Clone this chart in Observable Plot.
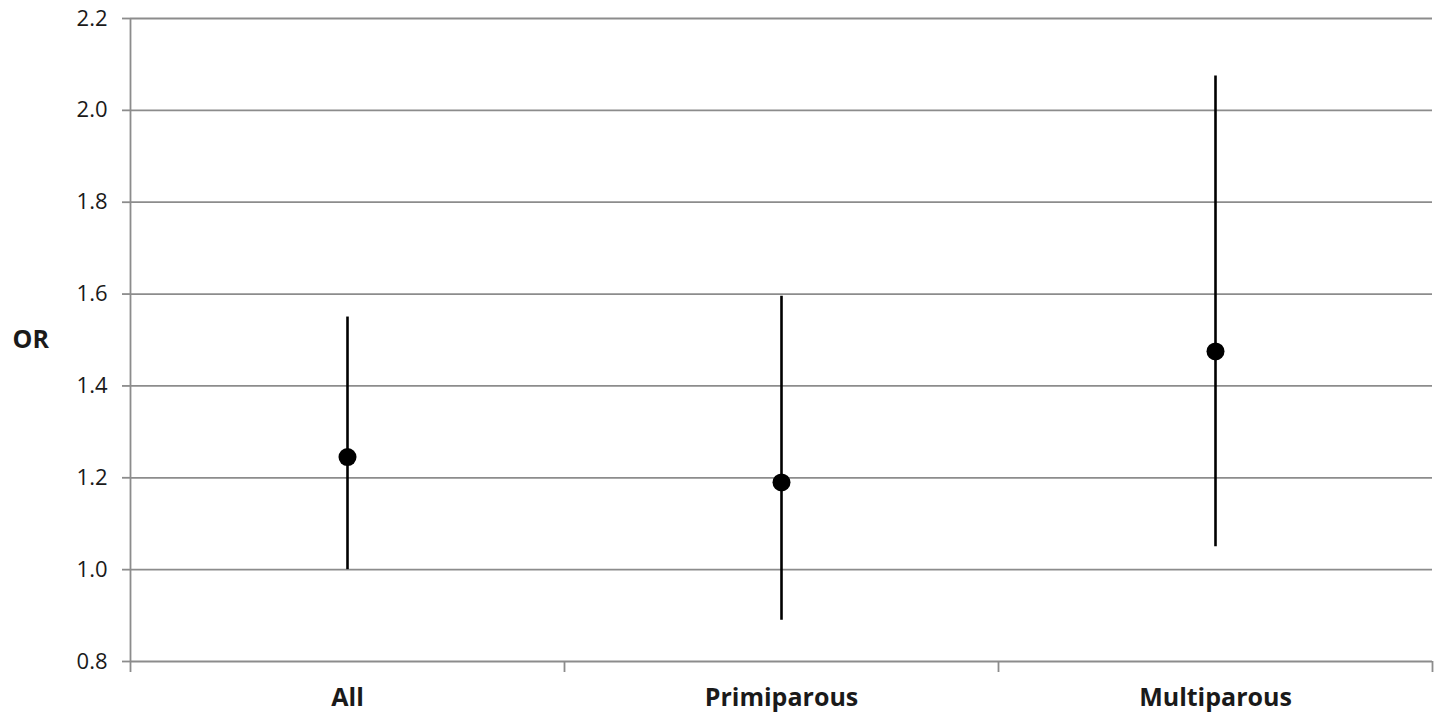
<!DOCTYPE html>
<html>
<head>
<meta charset="utf-8">
<script src="https://cdn.jsdelivr.net/npm/d3@7"></script>
<script src="https://cdn.jsdelivr.net/npm/@observablehq/plot@0.6"></script>
<style>
  html, body { margin: 0; padding: 0; background: #fff; }
  #chart { width: 1438px; height: 715px; }
</style>
</head>
<body>
<div id="chart"></div>
<script>
const categories = ["All", "Primiparous", "Multiparous"];
const oddsRatio = [1.245, 1.19, 1.475];
const lowerCI = [1.00, 0.89, 1.05];
const upperCI = [1.55, 1.595, 2.075];
const yTicks = [0.8, 1.0, 1.2, 1.4, 1.6, 1.8, 2.0, 2.2];
const yLabel = "OR";

const data = categories.map((c, i) => ({
  pos: i + 0.5, category: c, or: oddsRatio[i], lo: lowerCI[i], hi: upperCI[i]
}));
const boundaries = d3.range(categories.length + 1);

const font = "'Open Sans', 'Noto Sans', sans-serif";
const grid = "#8c8c8c";

const chart = Plot.plot({
  width: 1438,
  height: 715,
  marginLeft: 130,
  marginRight: 6,
  marginTop: 18,
  marginBottom: 54,
  style: { fontFamily: font, background: "#fff", color: "#1a1a1a" },
  x: { type: "linear", domain: [0, categories.length] },
  y: { domain: [0.8, 2.2] },
  marks: [
    Plot.ruleY(yTicks, { stroke: grid, strokeWidth: 1.8 }),
    Plot.ruleX([0], { y1: 0.8, y2: 2.2, stroke: grid, strokeWidth: 1.8 }),
    Plot.axisY({
      ticks: yTicks, tickSize: 8, tickPadding: 15, stroke: grid, strokeWidth: 1.8,
      tickFormat: d3.format(".1f"), fontSize: 22, label: null
    }),
    Plot.axisX({
      ticks: boundaries, tickSize: 11, stroke: grid, strokeWidth: 1.8,
      tickFormat: () => "", label: null
    }),
    Plot.axisX({
      ticks: data.map(d => d.pos), tickSize: 0, tickPadding: 27,
      tickFormat: (d) => categories[Math.floor(d)], fontSize: 25, fontWeight: "bold", label: null
    }),
    Plot.text([yLabel], { frameAnchor: "left", dx: -118, textAnchor: "start", fontSize: 25, fontWeight: "bold", fill: "#1a1a1a" }),
    Plot.ruleX(data, { x: "pos", y1: "lo", y2: "hi", stroke: "black", strokeWidth: 2.6 }),
    Plot.dot(data, { x: "pos", y: "or", r: 9, fill: "black", stroke: "none" })
  ]
});
document.getElementById("chart").append(chart);
</script>
</body>
</html>
